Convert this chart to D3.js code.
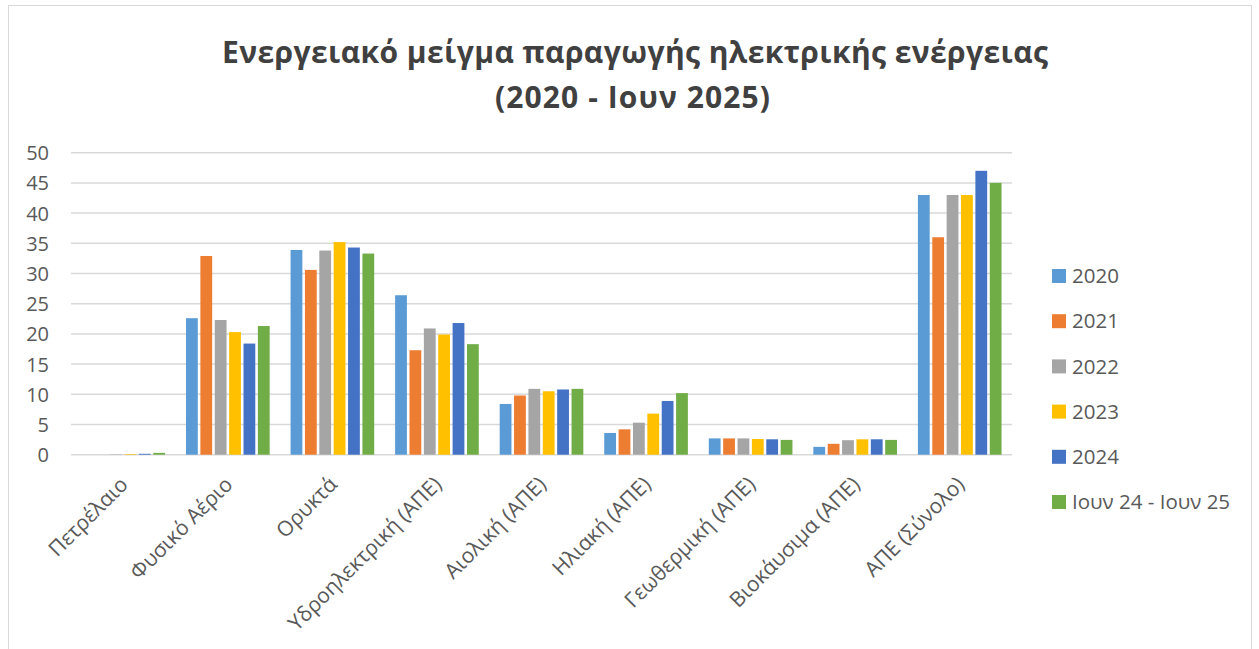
<!DOCTYPE html>
<html>
<head>
  <meta charset="utf-8">
  <title>Ενεργειακό μείγμα</title>
  <style>
    body { margin: 0; background: #fff; }
    svg { display: block; }
  </style>
</head>
<body>
<script src="https://cdnjs.cloudflare.com/ajax/libs/d3/7.8.5/d3.min.js"></script>
<script>
// categories on the x axis
var categories = ["Πετρέλαιο", "Φυσικό Αέριο", "Ορυκτά", "Υδροηλεκτρική (ΑΠΕ)",
  "Αιολική (ΑΠΕ)", "Ηλιακή (ΑΠΕ)", "Γεωθερμική (ΑΠΕ)", "Βιοκάυσιμα (ΑΠΕ)", "ΑΠΕ (Σύνολο)"];

// series names (legend)
var seriesNames = ["2020", "2021", "2022", "2023", "2024", "Ιουν 24 - Ιουν 25"];

// values per series, one per category (%)
var v2020 = [0.0, 22.6, 33.9, 26.4, 8.4, 3.6, 2.7, 1.3, 43.0];
var v2021 = [0.0, 32.9, 30.6, 17.3, 9.8, 4.2, 2.7, 1.8, 36.0];
var v2022 = [0.05, 22.3, 33.8, 20.9, 10.9, 5.3, 2.7, 2.4, 43.0];
var v2023 = [0.1, 20.3, 35.2, 19.9, 10.5, 6.8, 2.6, 2.55, 43.0];
var v2024 = [0.15, 18.4, 34.3, 21.8, 10.8, 8.9, 2.55, 2.55, 47.0];
var vJun = [0.3, 21.3, 33.3, 18.3, 10.9, 10.2, 2.45, 2.45, 45.0];

var seriesValues = [v2020, v2021, v2022, v2023, v2024, vJun];
var colors = ["#5B9BD5", "#ED7D31", "#A5A5A5", "#FFC000", "#4472C4", "#70AD47"];

// y tick labels
var yTicks = [0, 5, 10, 15, 20, 25, 30, 35, 40, 45, 50];

var W = 1259, H = 649;
var margin = {left: 71, right: 247, top: 153, bottom: 194};
var font = "Open Sans, sans-serif";

var svg = d3.select("body").append("svg")
  .attr("width", W)
  .attr("height", H);

// chart frame
svg.append("rect")
  .attr("x", 8.5).attr("y", 5.5)
  .attr("width", 1243).attr("height", 700)
  .attr("fill", "none")
  .attr("stroke", "#d9d9d9")
  .attr("stroke-width", 1);

// title, stretched to the width it has in the original
var title = svg.append("g")
  .attr("font-family", font)
  .attr("font-weight", "bold")
  .attr("font-size", 30)
  .attr("fill", "#404040");
title.append("text")
  .attr("x", 222).attr("y", 63)
  .attr("textLength", 826)
  .attr("lengthAdjust", "spacing")
  .text("Ενεργειακό μείγμα παραγωγής ηλεκτρικής ενέργειας");
title.append("text")
  .attr("x", 495).attr("y", 108)
  .attr("textLength", 275)
  .attr("lengthAdjust", "spacing")
  .text("(2020 - Ιουν 2025)");

var x0 = d3.scaleBand()
  .domain(categories)
  .range([margin.left, W - margin.right])
  .paddingInner(0.2)
  .paddingOuter(0.1);

var x1 = d3.scaleBand()
  .domain(seriesNames)
  .range([0, x0.bandwidth()])
  .paddingInner(0.18);

var y = d3.scaleLinear()
  .domain([0, 50])
  .range([H - margin.bottom - 0.3, margin.top - 0.3]);

// grid lines
svg.append("g")
  .selectAll("line")
  .data(yTicks)
  .enter()
  .append("line")
  .attr("x1", margin.left)
  .attr("x2", W - margin.right)
  .attr("y1", function(d) { return y(d); })
  .attr("y2", function(d) { return y(d); })
  .attr("stroke", "#d9d9d9")
  .attr("stroke-width", 1.5);

// y axis labels (axis built by d3, then restyled)
var yAxis = svg.append("g")
  .attr("transform", "translate(" + (margin.left - 22) + ",0)")
  .call(d3.axisLeft(y).tickValues(yTicks).tickSize(0).tickPadding(0));
yAxis.select(".domain").remove();
yAxis.selectAll("text")
  .attr("font-family", font)
  .attr("font-size", 20)
  .attr("fill", "#595959")
  .attr("dy", "0.35em");

// bars
var groups = svg.append("g")
  .selectAll("g")
  .data(seriesNames)
  .enter()
  .append("g")
  .attr("fill", function(d, i) { return colors[i]; });

groups.selectAll("rect")
  .data(function(d, i) {
    return categories.map(function(c, j) { return {cat: c, s: d, v: seriesValues[i][j]}; });
  })
  .enter()
  .append("rect")
  .attr("x", function(d) { return x0(d.cat) + x1(d.s); })
  .attr("y", function(d) { return y(d.v); })
  .attr("width", x1.bandwidth())
  .attr("height", function(d) { return y(0) - y(d.v); });

// x labels, rotated
var xAxis = svg.append("g")
  .attr("transform", "translate(0," + (y(0) + 31) + ")")
  .call(d3.axisBottom(x0).tickSize(0).tickPadding(0));
xAxis.select(".domain").remove();
xAxis.selectAll("text")
  .attr("font-family", font)
  .attr("font-size", 21)
  .attr("fill", "#595959")
  .attr("text-anchor", "end")
  .attr("dy", 0)
  .attr("transform", "translate(6,0) rotate(-45)");

// legend
var legend = svg.append("g")
  .selectAll("g")
  .data(seriesNames)
  .enter()
  .append("g")
  .attr("transform", function(d, i) { return "translate(1052," + (276 + i * 45.2) + ")"; });

legend.append("rect")
  .attr("x", 0).attr("y", -7)
  .attr("width", 14).attr("height", 14)
  .attr("fill", function(d, i) { return colors[i]; });

legend.append("text")
  .attr("x", 20)
  .attr("dy", "0.35em")
  .attr("font-family", font)
  .attr("font-size", 20.5)
  .attr("fill", "#595959")
  .text(function(d) { return d; });
</script>
</body>
</html>
